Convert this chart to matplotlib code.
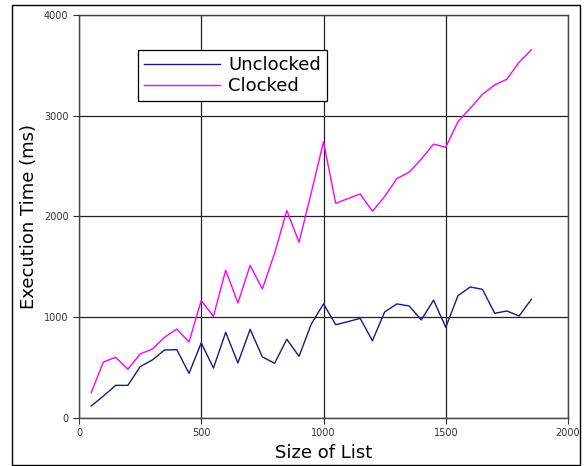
import numpy as np
import matplotlib
matplotlib.use("Agg")
import matplotlib.pyplot as plt
from matplotlib.patches import Rectangle

# list sizes 50..1850
sizes = [50, 100, 150, 200, 250, 300, 350, 400, 450, 500,
         550, 600, 650, 700, 750, 800, 850, 900, 950, 1000,
         1050, 1100, 1150, 1200, 1250, 1300, 1350, 1400, 1450, 1500,
         1550, 1600, 1650, 1700, 1750, 1800, 1850]

unclocked = [119, 218, 324, 324, 509, 576, 675, 678, 443, 745,
             496, 850, 546, 880, 606, 543, 781, 612, 933, 1132,
             926, 956, 989, 767, 1052, 1132, 1112, 973, 1170, 900,
             1214, 1300, 1277, 1039, 1062, 1012, 1178]

clocked = [251, 556, 602, 483, 635, 685, 801, 883, 754, 1165,
           1009, 1466, 1141, 1515, 1280, 1634, 2058, 1744, 2235, 2740,
           2131, 2177, 2223, 2051, 2197, 2375, 2439, 2568, 2718, 2687,
           2941, 3073, 3212, 3305, 3362, 3530, 3653]

fig = plt.figure(figsize=(5.85, 4.66), dpi=100)
ax = fig.add_axes([0.135, 0.103, 0.836, 0.865])

# outer frame round the whole chart
fig.patches.append(Rectangle((12/585, 1/466), 568/585, 460/466, transform=fig.transFigure,
                             fill=False, edgecolor="black", linewidth=1))

ax.plot(sizes, unclocked, color="#1a1a80", linewidth=1, label="Unclocked")
ax.plot(sizes, clocked, color="#ff00ff", linewidth=1, label="Clocked")

ax.set_xlim(0, 2000)
ax.set_ylim(0, 4000)
ax.set_xticks([0, 500, 1000, 1500, 2000])
ax.set_yticks([0, 1000, 2000, 3000, 4000])
ax.grid(True, color="#222222", linewidth=0.9)
ax.set_axisbelow(True)
ax.tick_params(direction="out", length=4, labelsize=7, labelcolor="#333333", color="#333333")

for s in ax.spines.values():
    s.set_color("#444444")
    s.set_linewidth(1.0)

ax.set_xlabel("Size of List", fontsize=13)
ax.set_ylabel("Execution Time (ms)", fontsize=13)

leg = ax.legend(loc="upper left", bbox_to_anchor=(0.102, 0.935), fontsize=13,
                fancybox=False, framealpha=1, edgecolor="black",
                handlelength=4.2, borderpad=0.35, labelspacing=0.15, handletextpad=0.45)
leg.get_frame().set_linewidth(0.9)

fig.savefig("out.png", dpi=100)
